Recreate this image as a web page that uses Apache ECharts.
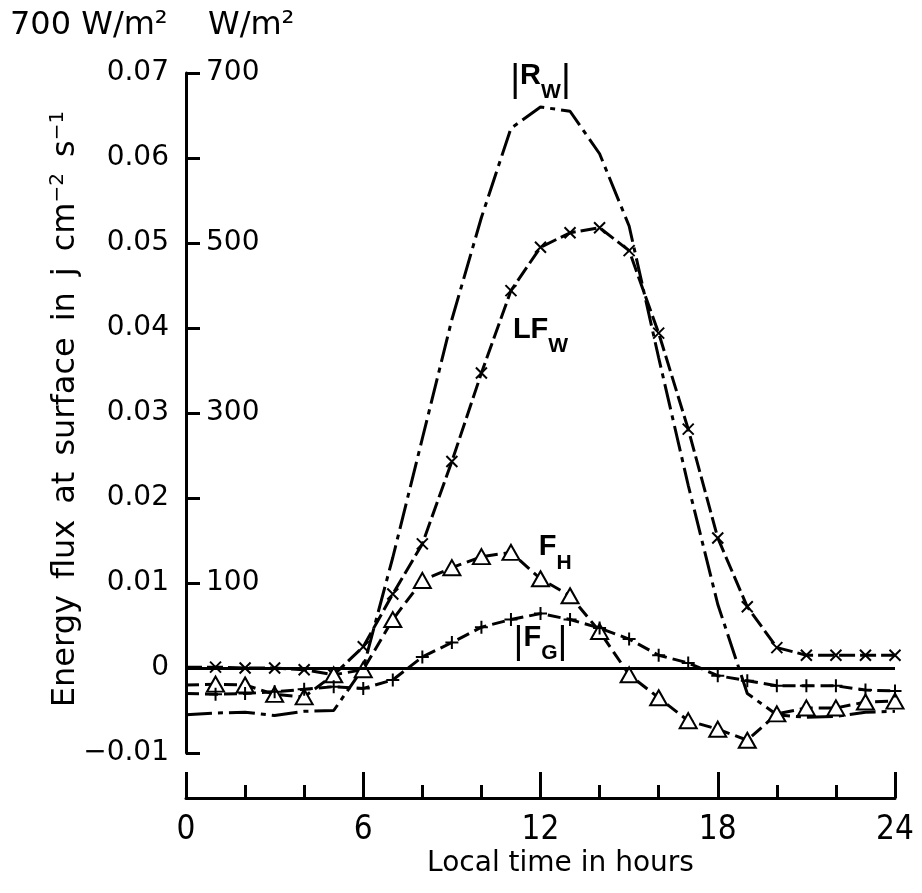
<!DOCTYPE html>
<html>
<head>
<meta charset="utf-8">
<script src="https://cdn.jsdelivr.net/npm/echarts@6/dist/echarts.min.js"></script>
<style>
  html, body { margin: 0; padding: 0; background: #fff; }
  #chart { width: 922px; height: 893px; }
</style>
</head>
<body>
<div id="chart"></div>
<script>
// local time in hours
const hours = [0, 1, 2, 3, 4, 5, 6, 7, 8, 9, 10, 11, 12, 13, 14, 15, 16, 17, 18, 19, 20, 21, 22, 23, 24];
// |R_W| net radiation
const rw = [-0.0055, -0.0053, -0.0052, -0.0056, -0.0051, -0.0050, 0.0000, 0.0130, 0.0270, 0.0410, 0.0530, 0.0635,
  0.0660, 0.0655, 0.0605, 0.0520, 0.0365, 0.0215, 0.0075, -0.0030, -0.0055, -0.0058, -0.0057, -0.0052, -0.0051];
// LF_W latent heat
const lfw = [0.0001, 0.0001, 0.0000, 0.0000, -0.0002, -0.0008, 0.0025, 0.0087, 0.0146, 0.0243, 0.0347, 0.0444,
  0.0495, 0.0512, 0.0518, 0.0491, 0.0394, 0.0281, 0.0153, 0.0072, 0.0024, 0.0015, 0.0015, 0.0015, 0.0015];
// F_H sensible heat
const fh = [-0.0020, -0.0019, -0.0020, -0.0031, -0.0034, -0.0008, -0.0002, 0.0057, 0.0103, 0.0118, 0.0131, 0.0136,
  0.0105, 0.0085, 0.0043, -0.0008, -0.0035, -0.0062, -0.0072, -0.0085, -0.0054, -0.0047, -0.0047, -0.0040, -0.0039];
// |F_G| ground heat
const fg = [-0.0030, -0.0031, -0.0030, -0.0028, -0.0025, -0.0022, -0.0024, -0.0014, 0.0013, 0.0030, 0.0048, 0.0057,
  0.0064, 0.0057, 0.0047, 0.0034, 0.0015, 0.0006, -0.0009, -0.0015, -0.0021, -0.0021, -0.0021, -0.0026, -0.0027];

const xTicks = [0, 6, 12, 18, 24];
const wTicks = [100, 300, 500, 700];

const FONT = "'DejaVu Sans', sans-serif";
const LBL = "'Liberation Sans', Arial, sans-serif";
const SP = '\u2002';

function pts(arr) {
  return arr.map((v, i) => i === 0 ? { value: [hours[i], v], symbol: 'none' } : [hours[i], v]);
}

const chart = echarts.init(document.getElementById('chart'), null, { renderer: 'canvas' });

const lineBase = { color: '#000', width: 3 };

function curveLabel(x, y, text) {
  return {
    coord: [x, y],
    label: {
      show: true,
      position: 'inside',
      formatter: text,
      rich: {
        bar: { fontFamily: LBL, fontSize: 38, color: '#000', lineHeight: 42, verticalAlign: 'top' },
        b: { fontFamily: LBL, fontWeight: 'bold', fontSize: 29, color: '#000', lineHeight: 42, verticalAlign: 'top' },
        s: { fontFamily: LBL, fontWeight: 'bold', fontSize: 21, color: '#000', lineHeight: 24, padding: [20, 0, 0, 0], verticalAlign: 'top' }
      }
    }
  };
}

chart.setOption({
  animation: false,
  backgroundColor: '#fff',
  grid: { left: 186, right: 27, top: 73, bottom: 140 },
  xAxis: {
    type: 'value',
    min: 0,
    max: 24,
    interval: 6,
    offset: 45,
    axisLine: { onZero: false, lineStyle: { color: '#000', width: 3 } },
    axisTick: { inside: true, length: 26, lineStyle: { color: '#000', width: 3 } },
    minorTick: { show: true, splitNumber: 3, length: 13, lineStyle: { color: '#000', width: 3 } },
    splitLine: { show: false },
    axisLabel: {
      margin: 16,
      fontFamily: "'Liberation Sans Narrow', 'DejaVu Sans Condensed', sans-serif",
      fontSize: 33,
      color: '#000',
      formatter: v => xTicks.indexOf(v) >= 0 ? String(v) : ''
    },
    name: 'Local time in hours',
    nameLocation: 'middle',
    nameGap: 52,
    nameMoveOverlap: false,
    nameTextStyle: { fontFamily: FONT, fontSize: 28, color: '#000', padding: [0, 0, 0, 40] }
  },
  yAxis: [{
    type: 'value',
    min: -0.01,
    max: 0.07,
    interval: 0.01,
    axisLine: { show: true, lineStyle: { color: '#000', width: 3 } },
    axisTick: { inside: true, length: 14, lineStyle: { color: '#000', width: 3 } },
    splitLine: { show: false },
    axisLabel: {
      margin: 17,
      fontFamily: FONT,
      fontSize: 28,
      color: '#000',
      formatter: v => {
        const r = Math.round(v * 100);
        if (r === 0) return '0';
        return (r < 0 ? '\u2212' : '') + (Math.abs(r) / 100).toFixed(2);
      }
    },
    name: ['Energy', 'flux', 'at', 'surface', 'in', 'j', 'cm{sup|\u22122}', 's{sup|\u22121}'].join(SP),
    nameLocation: 'middle',
    nameGap: 102,
    nameMoveOverlap: false,
    nameTextStyle: {
      fontFamily: FONT, fontSize: 32, color: '#000', padding: [0, 0, 0, 8],
      rich: { sup: { fontFamily: FONT, fontSize: 20, color: '#000', padding: [0, 0, 16, 0] } }
    }
  }, {
    type: 'value',
    position: 'left',
    min: -0.01,
    max: 0.07,
    interval: 0.01,
    axisLine: { show: false },
    axisTick: { show: false },
    splitLine: { show: false },
    axisLabel: {
      inside: true,
      margin: 20,
      fontFamily: FONT,
      fontSize: 28,
      color: '#000',
      formatter: v => {
        const w = Math.round(v * 10000);
        return wTicks.indexOf(w) >= 0 ? String(w) : '';
      }
    }
  }],
  graphic: [
    { type: 'text', left: 10, top: 10, style: { text: '700 W/m\u00b2', font: '32px ' + FONT, fill: '#000' } },
    { type: 'text', left: 208, top: 10, style: { text: 'W/m\u00b2', font: '32px ' + FONT, fill: '#000' } }
  ],
  series: [
    {
      name: 'Rw',
      type: 'line',
      data: pts(rw),
      showSymbol: false,
      symbol: 'none',
      lineStyle: Object.assign({}, lineBase, { type: [26, 6, 5, 6] }),
      markLine: {
        silent: true,
        symbol: 'none',
        label: { show: false },
        lineStyle: { color: '#000', width: 3, type: 'solid' },
        data: [[{ coord: [0, 0] }, { coord: [24, 0] }]]
      },
      markPoint: {
        symbol: 'circle',
        symbolSize: 1,
        itemStyle: { color: 'rgba(0,0,0,0)' },
        data: [
          curveLabel(12.0, 0.0689, '{bar||}{b|R}{s|W}{bar||}'),
          curveLabel(12.0, 0.0390, '{b|LF}{s|W}'),
          curveLabel(12.5, 0.0135, '{b|F}{s|H}'),
          curveLabel(12.0, 0.0028, '{bar||}{b|F}{s|G}{bar||}')
        ]
      }
    },
    {
      name: 'LFw',
      type: 'line',
      data: pts(lfw),
      symbol: 'path://M0,0L10,10M10,0L0,10',
      symbolSize: 11,
      itemStyle: { color: '#000', borderColor: '#000', borderWidth: 2 },
      lineStyle: Object.assign({}, lineBase, { type: [16, 5] })
    },
    {
      name: 'FH',
      type: 'line',
      data: pts(fh),
      symbol: 'triangle',
      symbolSize: [17, 15],
      itemStyle: { color: '#fff', borderColor: '#000', borderWidth: 2 },
      lineStyle: Object.assign({}, lineBase, { type: [13, 6] }),
      z: 3
    },
    {
      name: 'FG',
      type: 'line',
      data: pts(fg),
      symbol: 'path://M5,0L5,10M0,5L10,5',
      symbolSize: 13,
      itemStyle: { color: '#000', borderColor: '#000', borderWidth: 2 },
      lineStyle: Object.assign({}, lineBase, { type: [13, 6] })
    }
  ]
});
</script>
</body>
</html>
